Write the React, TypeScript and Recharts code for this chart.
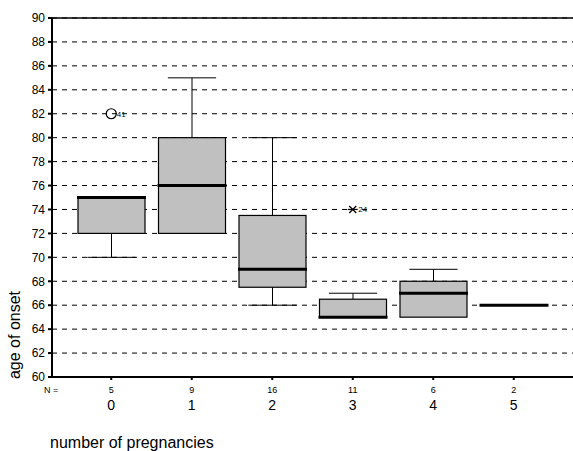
import { ComposedChart, Bar, Scatter, XAxis, YAxis, CartesianGrid, ReferenceLine, Label } from "recharts";

const categories = ["0", "1", "2", "3", "4", "5"];
const counts = [5, 9, 16, 11, 6, 2];
const whiskerLow = [70, 72, 66, 65, 65, 66];
const q1 = [72, 72, 67.5, 65, 65, 66];
const median = [75, 76, 69, 65, 67, 66];
const q3 = [75, 80, 73.5, 66.5, 68, 66];
const whiskerHigh = [75, 85, 80, 67, 69, 66];
const outlier = [82, null, null, 74, null, null];
const outlierCase = ["41", null, null, "24", null, null];
const outlierKind = ["circle", null, null, "star", null, null];
const yTicks = [60, 62, 64, 66, 68, 70, 72, 74, 76, 78, 80, 82, 84, 86, 88, 90];

const Y_MIN = 60;
const Y_MAX = 90;
const FONT = "Arial, 'Liberation Sans', sans-serif";

const rows = categories.map((cat, i) => ({
  cat,
  n: counts[i],
  lo: whiskerLow[i],
  q1: q1[i],
  med: median[i],
  q3: q3[i],
  hi: whiskerHigh[i],
  span: [Y_MIN, Y_MAX],
  outlier: outlier[i],
  caseNo: outlierCase[i],
  kind: outlierKind[i],
}));

// box + whiskers, pixel positions interpolated inside the full-domain bar
function BoxShape(props: any) {
  const { x, y, width, height, payload } = props;
  const toY = (v: number) => y + (height * (Y_MAX - v)) / (Y_MAX - Y_MIN);
  const cx = x + width / 2;
  const capHalf = width * 0.36;
  const yLo = toY(payload.lo);
  const yQ1 = toY(payload.q1);
  const yMed = toY(payload.med);
  const yQ3 = toY(payload.q3);
  const yHi = toY(payload.hi);
  return (
    <g>
      {payload.hi > payload.q3 && (
        <g stroke="#000" strokeWidth={1}>
          <line x1={cx} x2={cx} y1={yHi} y2={yQ3} />
          <line x1={cx - capHalf} x2={cx + capHalf} y1={yHi} y2={yHi} />
        </g>
      )}
      {payload.lo < payload.q1 && (
        <g stroke="#000" strokeWidth={1}>
          <line x1={cx} x2={cx} y1={yQ1} y2={yLo} />
          <line x1={cx - capHalf} x2={cx + capHalf} y1={yLo} y2={yLo} />
        </g>
      )}
      {payload.q3 > payload.q1 && (
        <rect x={x} y={yQ3} width={width} height={yQ1 - yQ3} fill="#c0c0c0" stroke="#000" strokeWidth={1.2} />
      )}
      <line x1={x - 1} x2={x + width + 1} y1={yMed} y2={yMed} stroke="#000" strokeWidth={3} />
    </g>
  );
}

function OutlierShape(props: any) {
  const { cx, cy, payload } = props;
  if (payload.outlier == null || !isFinite(cx) || !isFinite(cy)) return <g />;
  const r = 5;
  return (
    <g>
      {payload.kind === "circle" ? (
        <circle cx={cx} cy={cy} r={r} fill="none" stroke="#000" strokeWidth={1.2} />
      ) : (
        <g stroke="#000" strokeWidth={1.2}>
          <line x1={cx - r} x2={cx + r} y1={cy} y2={cy} />
          <line x1={cx - 3.5} x2={cx + 3.5} y1={cy - 3.5} y2={cy + 3.5} />
          <line x1={cx - 3.5} x2={cx + 3.5} y1={cy + 3.5} y2={cy - 3.5} />
        </g>
      )}
      <text x={cx + r + 0.5} y={cy + 3} fontSize={8} fill="#000" fontFamily={FONT}>
        {payload.caseNo}
      </text>
    </g>
  );
}

function CatTick(props: any) {
  const { x, y, payload } = props;
  const i = categories.indexOf(String(payload.value));
  return (
    <g fontFamily={FONT} fill="#000">
      {i === 0 && (
        <text x={x - 53} y={y + 11} textAnchor="end" fontSize={9}>
          N =
        </text>
      )}
      <text x={x} y={y + 11} textAnchor="middle" fontSize={9}>
        {counts[i]}
      </text>
      <text x={x} y={y + 28} textAnchor="middle" fontSize={14}>
        {payload.value}
      </text>
    </g>
  );
}

export default function App() {
  return (
    <div style={{ position: "absolute", left: 0, top: 0, fontFamily: FONT, background: "#fff" }}>
      <ComposedChart width={573} height={451} data={rows} margin={{ top: 18, right: 0, bottom: 0, left: 0 }} barSize={67}>
        <CartesianGrid vertical={false} stroke="#000" strokeDasharray="5 5" />
        <XAxis
          dataKey="cat"
          type="category"
          height={74}
          padding={{ left: 19, right: 19 }}
          axisLine={{ stroke: "#000", strokeWidth: 2 }}
          tickLine={{ stroke: "#000", strokeWidth: 2 }}
          tickSize={3}
          tickMargin={2}
          tick={<CatTick />}
          interval={0}
        >
          <Label
            content={() => (
              <text x={50} y={448} fontSize={16} fill="#000" fontFamily={FONT}>
                number of pregnancies
              </text>
            )}
          />
        </XAxis>
        <YAxis
          type="number"
          domain={[Y_MIN, Y_MAX]}
          ticks={yTicks}
          interval={0}
          width={52}
          axisLine={{ stroke: "#000", strokeWidth: 2 }}
          tickLine={{ stroke: "#000", strokeWidth: 2 }}
          tickSize={4}
          tickMargin={3}
          tick={{ fill: "#000", fontSize: 12, fontFamily: FONT }}
        >
          <Label
            content={(p: any) => {
              const vb = p.viewBox || { x: 0, y: 18, height: 359 };
              return (
                <text
                  transform={`translate(${vb.x + 20}, ${vb.y + vb.height - 42}) rotate(-90)`}
                  textAnchor="middle"
                  fontSize={16}
                  fill="#000"
                  fontFamily={FONT}
                >
                  age of onset
                </text>
              );
            }}
          />
        </YAxis>
        <ReferenceLine y={Y_MAX} stroke="#000" strokeWidth={1.5} />
        <Bar dataKey="span" shape={<BoxShape />} isAnimationActive={false} />
        <Scatter dataKey="outlier" shape={<OutlierShape />} isAnimationActive={false} />
      </ComposedChart>
    </div>
  );
}
